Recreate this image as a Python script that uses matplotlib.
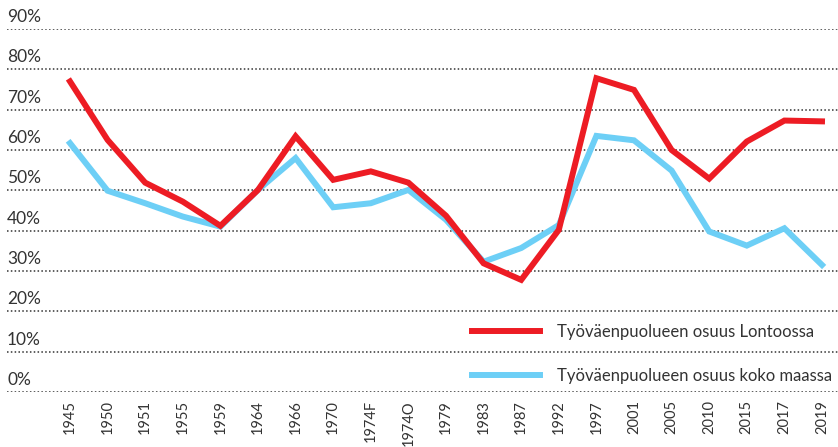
import matplotlib.pyplot as plt

plt.rcParams['font.family'] = ['Lato', 'DejaVu Sans']

years = ["1945", "1950", "1951", "1955", "1959", "1964", "1966", "1970", "1974F", "1974O", "1979",
         "1983", "1987", "1992", "1997", "2001", "2005", "2010", "2015", "2017", "2019"]
london = [77.0, 62.5, 51.9, 47.2, 41.2, 50.1, 63.4, 52.6, 54.7, 51.9, 43.7,
          31.9, 27.8, 40.2, 77.8, 74.9, 60.0, 52.9, 62.1, 67.3, 67.1]
national = [61.7, 49.9, 46.8, 43.5, 41.0, 50.1, 58.0, 45.8, 46.8, 50.1, 42.7,
            32.3, 35.7, 41.4, 63.5, 62.4, 54.9, 39.8, 36.3, 40.6, 31.5]
yticks = list(range(0, 100, 10))

red = "#ED1C24"
blue = "#6DCFF6"
grey = "#333333"

W, H = 838, 447
fig = plt.figure(figsize=(W / 100, H / 100), dpi=100)
# axes: 0% line at y=392px, 90% line at y=29px, left edge at x=7px
ax = fig.add_axes([7 / W, 1 - 392 / H, 1 - 7 / W, 363 / H])

x = range(len(years))
ax.plot(x, national, color=blue, lw=4.3, solid_joinstyle='miter', label="Työväenpuolueen osuus koko maassa", zorder=3)
ax.plot(x, london, color=red, lw=4.3, solid_joinstyle='miter', label="Työväenpuolueen osuus Lontoossa", zorder=4)

ax.set_ylim(0, 90)
ax.set_xlim((7 - 70) / 37.6, (W - 70) / 37.6)
ax.set_yticks(yticks)
ax.yaxis.grid(True, color="#333333", linestyle=(0, (1, 1.5)), linewidth=1.1)
ax.tick_params(axis='y', left=False, labelleft=False)
for v in yticks:
    ax.text(0, v + 1.0, f"{v}%", transform=ax.get_yaxis_transform(), ha='left', va='bottom',
            fontsize=12.5, color=grey)

ax.set_xticks(list(x))
ax.set_xticklabels(years, rotation=90, fontsize=10.5, color=grey, va='top', ha='center')
ax.tick_params(axis='x', length=0, pad=6)
for s in ax.spines.values():
    s.set_visible(False)

handles, labels = ax.get_legend_handles_labels()
leg = ax.legend(handles[::-1], labels[::-1], loc='upper left', bbox_to_anchor=(472 / W, 1 - 324 / H),
                bbox_transform=fig.transFigure, frameon=False, fontsize=12, handlelength=4.1,
                handletextpad=1.0, labelspacing=1.65, borderpad=0, borderaxespad=0)
for t in leg.get_texts():
    t.set_color(grey)

fig.savefig("out.png", dpi=100)
